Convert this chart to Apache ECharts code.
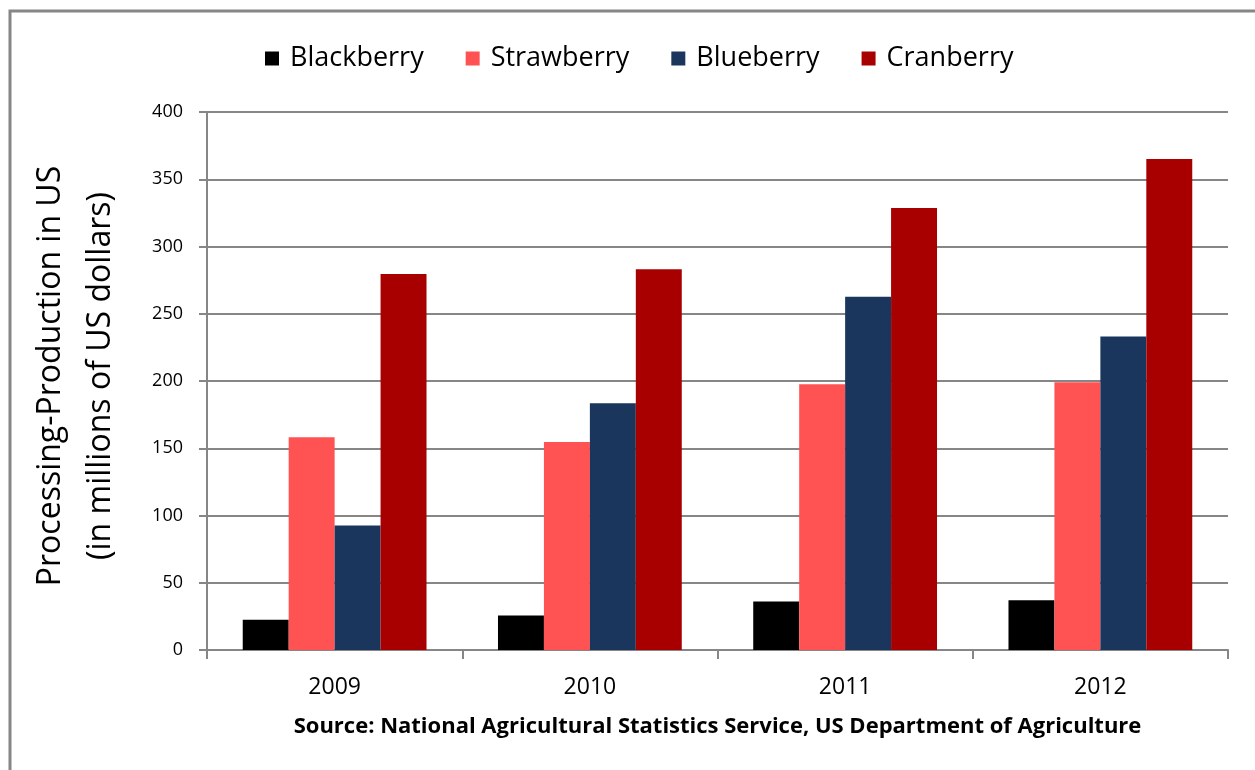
<!DOCTYPE html>
<html>
<head>
<meta charset="utf-8">
<script src="https://cdn.jsdelivr.net/npm/echarts@6/dist/echarts.min.js"></script>
<style>
html,body{margin:0;padding:0;background:#fff;}
#chart{width:1255px;height:770px;}
</style>
</head>
<body>
<div id="chart"></div>
<script>
const categories = ['2009', '2010', '2011', '2012'];
const blackberry = [22.5, 25.7, 36, 37];
const strawberry = [158.2, 154.7, 197.6, 199];
const blueberry = [92.5, 183.4, 262.7, 233];
const cranberry = [279.5, 283, 328.6, 365];
const seriesNames = ['Blackberry', 'Strawberry', 'Blueberry', 'Cranberry'];
const colors = ['#000000', '#FF5252', '#1A365D', '#A80000'];
const yTicks = [0, 50, 100, 150, 200, 250, 300, 350, 400];

const FONT = 'Open Sans';
const chart = echarts.init(document.getElementById('chart'));
const dataSets = [blackberry, strawberry, blueberry, cranberry];

chart.setOption({
  animation: false,
  backgroundColor: '#fff',
  legend: {
    top: 40,
    left: 260,
    itemWidth: 14,
    itemHeight: 14,
    itemGap: 42,
    icon: 'rect',
    textStyle: { fontFamily: FONT, fontSize: 27, color: '#000', padding: [0, 0, 0, 6] },
    data: seriesNames
  },
  grid: { left: 207, right: 27, top: 112, bottom: 120 },
  xAxis: {
    type: 'category',
    data: categories,
    axisLine: { lineStyle: { color: '#868686', width: 2 } },
    axisTick: { show: true, length: 9, lineStyle: { color: '#868686', width: 2 } },
    axisLabel: { fontFamily: FONT, fontSize: 23, color: '#000', margin: 26 },
    name: 'Source: National Agricultural Statistics Service, US Department of Agriculture',
    nameLocation: 'middle',
    nameGap: 66,
    nameTextStyle: { fontFamily: FONT, fontSize: 22, fontWeight: 'bold', color: '#000' }
  },
  yAxis: {
    type: 'value',
    min: yTicks[0],
    max: yTicks[yTicks.length - 1],
    interval: 50,
    axisLine: { show: true, lineStyle: { color: '#868686', width: 2 } },
    axisTick: { show: true, length: 8, lineStyle: { color: '#868686', width: 2 } },
    splitLine: { show: true, lineStyle: { color: '#868686', width: 2 } },
    axisLabel: { fontFamily: FONT, fontSize: 18, color: '#000', margin: 24 }
  },
  series: seriesNames.map((n, i) => ({
    name: n,
    type: 'bar',
    data: dataSets[i],
    itemStyle: { color: colors[i] },
    barGap: '0%',
    barCategoryGap: '28%'
  })),
  graphic: [
    {
      type: 'rect',
      shape: { x: 10, y: 11, width: 1400, height: 900 },
      style: { fill: null, stroke: '#868686', lineWidth: 3 },
      silent: true
    },
    {
      type: 'text',
      x: 76,
      y: 376,
      rotation: Math.PI / 2,
      style: {
        text: 'Processing-Production in US\n(in millions of US dollars)',
        fontFamily: FONT,
        fontSize: 32,
        lineHeight: 50,
        fill: '#000',
        align: 'center',
        verticalAlign: 'middle'
      }
    }
  ]
});
</script>
</body>
</html>
